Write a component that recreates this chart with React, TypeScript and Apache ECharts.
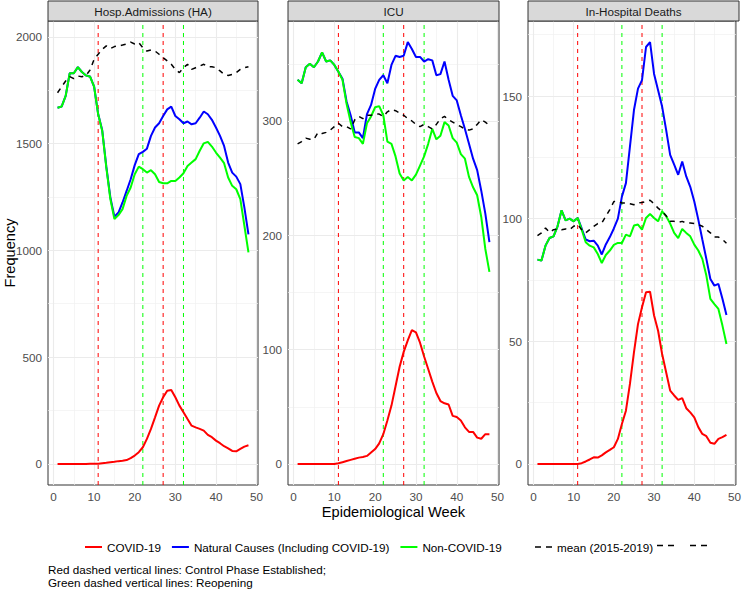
import React, { useEffect, useRef } from "react";
import * as echarts from "echarts";

// ---------- data ----------
const weeks = [
  1, 2, 3, 4, 5, 6, 7, 8, 9, 10, 11, 12, 13, 14, 15, 16, 17, 18, 19, 20, 21, 22, 23, 24,
  25, 26, 27, 28, 29, 30, 31, 32, 33, 34, 35, 36, 37, 38, 39, 40, 41, 42, 43, 44, 45, 46, 47, 48,
];

const panelTitles = ["Hosp.Admissions (HA)", "ICU", "In-Hospital Deaths"];
const seriesNames = [
  "COVID-19",
  "Natural Causes (Including COVID-19)",
  "Non-COVID-19",
  "mean (2015-2019)",
];

// Hospital admissions
const covidHA = [
  0, 0, 0, 0, 0, 0, 0, 0, 1, 1, 1, 3, 5, 8, 10, 13, 15, 18, 27, 39, 55, 78, 117, 164,
  218, 273, 312, 343, 346, 312, 273, 242, 210, 179, 171, 164, 156, 136, 125, 109, 97, 83, 73, 61, 59, 70, 81, 87,
];
const naturalHA = [
  1668, 1673, 1723, 1829, 1829, 1858, 1835, 1819, 1814, 1767, 1638, 1562, 1393, 1248, 1158, 1177, 1224, 1278, 1333, 1399, 1450, 1461, 1476, 1536,
  1575, 1595, 1629, 1660, 1673, 1629, 1614, 1595, 1603, 1590, 1595, 1621, 1650, 1637, 1611, 1575, 1536, 1489, 1411, 1364, 1345, 1310, 1200, 1075,
];
const nonCovidHA = [
  1668, 1673, 1723, 1829, 1829, 1858, 1835, 1819, 1813, 1766, 1637, 1559, 1388, 1240, 1146, 1165, 1193, 1255, 1294, 1356, 1392, 1380, 1364, 1375,
  1356, 1320, 1314, 1314, 1325, 1325, 1341, 1361, 1395, 1411, 1427, 1466, 1501, 1508, 1486, 1458, 1434, 1408, 1341, 1302, 1286, 1240, 1115, 990,
];
const meanHA = [
  1738, 1766, 1793, 1813, 1804, 1816, 1813, 1819, 1844, 1894, 1918, 1941, 1957, 1945, 1954, 1957, 1961, 1966, 1975, 1966, 1972, 1949, 1933, 1938,
  1933, 1918, 1902, 1887, 1871, 1847, 1832, 1855, 1871, 1847, 1855, 1863, 1871, 1860, 1860, 1855, 1840, 1824, 1819, 1824, 1832, 1847, 1855, 1860,
];

// ICU
const covidICU = [
  0, 0, 0, 0, 0, 0, 0, 0, 0, 0, 0.5, 1.5, 2.5, 3.5, 4.5, 5.5, 6, 7, 10, 13, 18, 26, 38, 51,
  68, 85, 98, 108, 117, 115, 106, 94, 83, 72, 62, 55, 53, 52, 42, 41, 38, 32, 28, 28, 23, 22, 26, 26,
];
const naturalICU = [
  336, 333, 347, 350, 347, 352, 360, 352, 353, 349, 343, 337, 317, 305, 290, 290, 285, 306, 314, 328, 336, 340, 333, 349,
  357, 356, 357, 369, 363, 356, 356, 352, 354, 353, 340, 341, 352, 336, 322, 318, 305, 293, 280, 267, 257, 239, 219, 194,
];
const nonCovidICU = [
  336, 333, 347, 350, 347, 352, 360, 352, 353, 349, 343, 336, 315, 299, 286, 285, 280, 298, 304, 312, 313, 305, 282, 280,
  269, 254, 248, 251, 248, 253, 261, 269, 280, 293, 284, 287, 299, 296, 285, 281, 271, 267, 251, 242, 235, 216, 188, 168,
];
const meanICU = [
  280, 282, 285, 284, 284, 290, 289, 290, 292, 295, 298, 295, 295, 293, 301, 304, 302, 305, 305, 306, 306, 304, 308, 310,
  309, 307, 305, 302, 300, 297, 295, 297, 295, 293, 297, 302, 304, 301, 299, 297, 295, 293, 292, 293, 297, 301, 299, 296,
];

// In-hospital deaths
const covidDeaths = [
  0, 0, 0, 0, 0, 0, 0, 0, 0, 0, 0, 0.3, 1, 1.8, 2.7, 2.6, 3.5, 4.7, 5.7, 6.8, 10.2, 16.3, 21.7, 32.6,
  45.5, 57, 63.9, 70, 70.2, 60.5, 54.3, 44.8, 37.4, 29.9, 27.9, 26.1, 26.8, 22.7, 21, 19, 15, 12.2, 11.3, 8.6, 8.2, 10.2, 10.9, 11.8,
];
const naturalDeaths = [
  83.3, 82.9, 89, 92.1, 92.8, 96.9, 103.4, 99.3, 100, 98.9, 100.3, 96, 91.5, 90.8, 91, 89, 85.4, 89.5, 92.5, 96, 100, 109, 114.5, 129.4,
  144.3, 153, 156.5, 170, 172, 159, 152.4, 145.7, 136.2, 126, 122, 117.9, 123.3, 117.2, 113, 107, 99.6, 91.5, 83.6, 75.4, 72.7, 73.4, 67.3, 60.7,
];
const nonCovidDeaths = [
  83.3, 82.9, 89, 92.1, 92.8, 96.9, 103.4, 99.3, 100, 98.9, 100.3, 95.5, 90.4, 89, 88.3, 85.6, 81.9, 85.2, 87, 89.3, 90.1, 90.1, 93.5, 92.8,
  97.2, 97.6, 95.5, 100.3, 101.9, 100.3, 98.9, 103, 101, 98, 94.2, 92.1, 95.8, 94.2, 92.8, 89.4, 87, 83.6, 76.8, 67.3, 65.2, 63.2, 56.4, 48.9,
];
const meanDeaths = [
  93.1, 94.2, 96.2, 94.4, 95.5, 95.8, 95.5, 95.8, 95.5, 96.9, 97.6, 95.5, 94.2, 95.5, 96.9, 98, 98.2, 101, 103.7, 107, 107, 106.4, 106.4, 106.1,
  105.7, 106.4, 106.6, 107, 107.5, 106.1, 104.3, 103, 101.2, 98.9, 98.9, 98.5, 98.9, 98.2, 98.2, 98, 97.6, 96.9, 95.5, 94.2, 92.5, 92.5, 91.5, 90,
];

const controlPhaseWeeks = [11, 27];
const reopeningWeeks = [22, 32];

const xMajorTicks = [0, 10, 20, 30, 40, 50];
const xMinorTicks = [5, 15, 25, 35, 45];
const yMajorHA = [0, 500, 1000, 1500, 2000];
const yMinorHA = [250, 750, 1250, 1750];
const yMajorICU = [0, 100, 200, 300];
const yMinorICU = [50, 150, 250, 350];
const yMajorDeaths = [0, 50, 100, 150];
const yMinorDeaths = [25, 75, 125, 175];

const xAxisTitle = "Epidemiological Week";
const yAxisTitle = "Frequency";
const captionLines = [
  "Red dashed vertical lines: Control Phase Established;",
  "Green dashed vertical lines: Reopening",
];

// ---------- styling / layout ----------
const FONT = "Liberation Sans, Arial, sans-serif";
const SERIES_COLORS = ["#FF0000", "#0000FF", "#00FF00", "#000000"];
const GRID_LEFT = [48, 288, 528];
const GRID_WIDTH = [210, 211, 211];
const GRID_TOP = 21;
const GRID_HEIGHT = 464;
const STRIP_TOP = 1;
const SOLID_KEY = "path://M0,0H17V2H0Z";
const DASHED_KEY = "path://M0,0H6V1.6H0Z M11,0H17V1.6H11Z";

const panels = [
  { title: panelTitles[0], values: [covidHA, naturalHA, nonCovidHA, meanHA], yMajor: yMajorHA, yMinor: yMinorHA },
  { title: panelTitles[1], values: [covidICU, naturalICU, nonCovidICU, meanICU], yMajor: yMajorICU, yMinor: yMinorICU },
  { title: panelTitles[2], values: [covidDeaths, naturalDeaths, nonCovidDeaths, meanDeaths], yMajor: yMajorDeaths, yMinor: yMinorDeaths },
];

function expandRange(lo: number, hi: number) {
  const pad = (hi - lo) * 0.05;
  return [lo - pad, hi + pad];
}

function gridLineSeries(i: number, id: string, xs: number[], ys: number[], lineStyle: any) {
  const data: any[] = [];
  xs.forEach((v) => data.push({ xAxis: v }));
  ys.forEach((v) => data.push({ yAxis: v }));
  return {
    type: "line",
    id: id + "-" + i,
    name: id + "-" + i,
    xAxisIndex: i,
    yAxisIndex: i,
    data: [],
    silent: true,
    z: 1,
    color: lineStyle.color,
    markLine: {
      silent: true,
      z: 1,
      symbol: ["none", "none"],
      label: { show: false },
      lineStyle,
      emphasis: { disabled: true, lineStyle },
      data,
    },
  };
}

function buildOption() {
  const [xMin, xMax] = expandRange(Math.min(...weeks), Math.max(...weeks));
  const plain = (v: number) => String(v);

  const grid: any[] = [];
  const xAxis: any[] = [];
  const yAxis: any[] = [];
  const series: any[] = [];
  const graphic: any[] = [];

  panels.forEach((p, i) => {
    const all = p.values.flat();
    const [yMin, yMax] = expandRange(Math.min(...all), Math.max(...all));
    grid.push({
      left: GRID_LEFT[i],
      top: GRID_TOP,
      width: GRID_WIDTH[i],
      height: GRID_HEIGHT,
      show: true,
      backgroundColor: "#FFFFFF",
      borderColor: "#333333",
      borderWidth: 1,
    });
    const tickStyle = { show: true, length: 3.5, lineStyle: { color: "#333333", width: 1 } };
    const labelStyle = {
      color: "#4D4D4D",
      fontSize: 11.7,
      fontFamily: FONT,
      showMinLabel: false,
      showMaxLabel: false,
      formatter: plain,
    };
    xAxis.push({
      type: "value",
      gridIndex: i,
      min: xMin,
      max: xMax,
      splitNumber: 4,
      axisLine: { show: false },
      axisTick: tickStyle,
      axisLabel: { ...labelStyle, margin: 5 },
      splitLine: { show: false },
    });
    yAxis.push({
      type: "value",
      gridIndex: i,
      min: yMin,
      max: yMax,
      splitNumber: 4,
      axisLine: { show: false },
      axisTick: tickStyle,
      axisLabel: { ...labelStyle, margin: 6 },
      splitLine: { show: false },
    });

    series.push(gridLineSeries(i, "minor-grid", xMinorTicks, p.yMinor, { color: "#F0F0F0", width: 0.7, type: "solid" }));
    series.push(gridLineSeries(i, "major-grid", xMajorTicks, p.yMajor, { color: "#EBEBEB", width: 1.1, type: "solid" }));

    // dashed vertical reference lines, drawn as two-point line series through the axes
    const vlines = [
      ...controlPhaseWeeks.map((w) => ({ w, color: "#FF0000", kind: "control-phase" })),
      ...reopeningWeeks.map((w) => ({ w, color: "#00FF00", kind: "reopening" })),
    ];
    vlines.forEach((v) => {
      series.push({
        type: "line",
        id: v.kind + "-" + v.w + "-" + i,
        name: v.kind + "-" + v.w + "-" + i,
        xAxisIndex: i,
        yAxisIndex: i,
        data: [
          [v.w, yMin],
          [v.w, yMax],
        ],
        showSymbol: false,
        symbol: "none",
        silent: true,
        z: 2,
        color: v.color,
        lineStyle: { color: v.color, width: 1, type: [4, 4] },
      });
    });

    p.values.forEach((vals, k) => {
      series.push({
        type: "line",
        name: seriesNames[k],
        xAxisIndex: i,
        yAxisIndex: i,
        data: weeks.map((w, j) => [w, vals[j]]),
        showSymbol: false,
        symbol: "none",
        silent: true,
        z: 3 + k,
        color: SERIES_COLORS[k],
        lineStyle:
          k === 3
            ? { color: "#000000", width: 1.5, type: [5, 5] }
            : { color: SERIES_COLORS[k], width: 2, type: "solid" },
      });
    });

    // facet strip
    graphic.push({
      type: "rect",
      shape: { x: GRID_LEFT[i], y: STRIP_TOP, width: GRID_WIDTH[i], height: GRID_TOP - STRIP_TOP },
      style: { fill: "#D9D9D9", stroke: "#333333", lineWidth: 1 },
      z: 10,
    });
    graphic.push({
      type: "text",
      x: GRID_LEFT[i] + GRID_WIDTH[i] / 2,
      y: (STRIP_TOP + GRID_TOP) / 2 + 0.5,
      style: {
        text: p.title,
        fill: "#1A1A1A",
        fontSize: 11.7,
        fontFamily: FONT,
        align: "center",
        verticalAlign: "middle",
      },
      z: 11,
    });
  });

  const panelsCenter = (GRID_LEFT[0] + GRID_LEFT[2] + GRID_WIDTH[2]) / 2;

  graphic.push({
    type: "text",
    x: 10,
    y: GRID_TOP + GRID_HEIGHT / 2,
    rotation: Math.PI / 2,
    style: {
      text: yAxisTitle,
      fill: "#000000",
      fontSize: 14.6,
      fontFamily: FONT,
      align: "center",
      verticalAlign: "middle",
    },
  });
  graphic.push({
    type: "text",
    x: panelsCenter,
    y: 512,
    style: {
      text: xAxisTitle,
      fill: "#000000",
      fontSize: 14.6,
      fontFamily: FONT,
      align: "center",
      verticalAlign: "middle",
    },
  });
  // unlabeled dashed legend keys after "mean (2015-2019)"
  [657, 690].forEach((x0) => {
    graphic.push({
      type: "line",
      shape: { x1: x0, y1: 545.5, x2: x0 + 17, y2: 545.5 },
      style: { stroke: "#000000", lineWidth: 1.6, lineDash: [6, 5] },
    });
  });
  graphic.push({
    type: "text",
    x: 48,
    y: 563,
    style: {
      text: captionLines.join("\n"),
      fill: "#000000",
      fontSize: 11.7,
      fontFamily: FONT,
      lineHeight: 13,
      align: "left",
      verticalAlign: "top",
    },
  });

  const legendCommon = {
    top: 536,
    itemWidth: 17,
    itemHeight: 14,
    itemGap: 11,
    selectedMode: false,
    textStyle: { fontSize: 11.7, color: "#000000", fontFamily: FONT },
  };

  return {
    animation: false,
    backgroundColor: "#FFFFFF",
    textStyle: { fontFamily: FONT },
    grid,
    xAxis,
    yAxis,
    series,
    graphic,
    legend: [
      {
        ...legendCommon,
        left: 80,
        data: seriesNames.slice(0, 3).map((name) => ({ name, icon: SOLID_KEY })),
      },
      {
        ...legendCommon,
        left: 530,
        data: [{ name: seriesNames[3], icon: DASHED_KEY }],
      },
    ],
  };
}

export default function App() {
  const ref = useRef<HTMLDivElement>(null);
  useEffect(() => {
    document.body.style.margin = "0";
    if (!ref.current) return;
    const chart = echarts.init(ref.current, undefined, { renderer: "svg" });
    chart.setOption(buildOption() as any);
    return () => chart.dispose();
  }, []);
  return <div ref={ref} style={{ width: 744, height: 590 }} />;
}
